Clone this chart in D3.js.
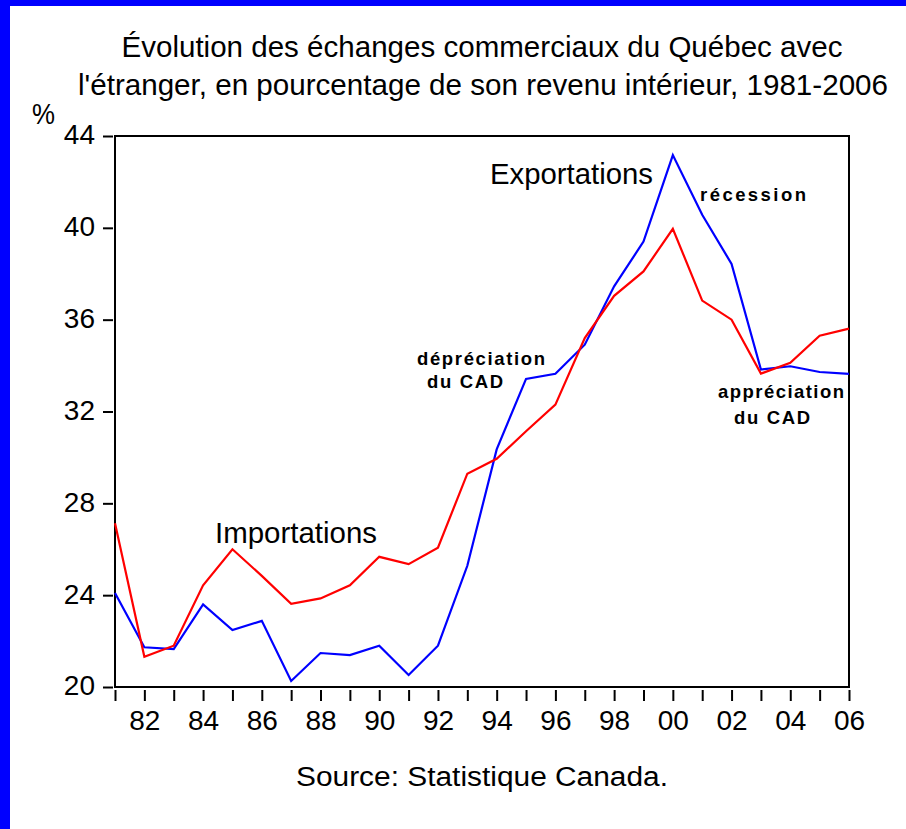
<!DOCTYPE html>
<html>
<head>
<meta charset="utf-8">
<script src="https://cdn.jsdelivr.net/npm/d3@7"></script>
<style>
  html, body { margin: 0; padding: 0; background: #fff; }
  svg { display: block; font-family: "Liberation Sans", Arial, sans-serif; }
</style>
</head>
<body>
<svg id="chart" width="906" height="829"></svg>
<script>
// ---- data ----
const years = d3.range(1981, 2007);
const importations = [27.13, 21.32, 21.80, 24.43, 26.00, 24.84, 23.62, 23.86, 24.43, 25.67,
                      25.35, 26.07, 29.29, 29.94, 31.14, 32.30, 35.20, 37.04, 38.10, 39.96,
                      36.83, 36.00, 33.65, 34.12, 35.30, 35.61];
const exportations = [24.09, 21.73, 21.65, 23.60, 22.48, 22.88, 20.26, 21.48, 21.39, 21.80,
                      20.52, 21.80, 25.28, 30.35, 33.42, 33.64, 34.91, 37.45, 39.40, 43.17,
                      40.57, 38.43, 33.83, 33.97, 33.72, 33.64];
const yTicks = [20, 24, 28, 32, 36, 40, 44];
const xLabelYears = [1982, 1984, 1986, 1988, 1990, 1992, 1994, 1996, 1998, 2000, 2002, 2004, 2006];
const titleLines = ["Évolution des échanges commerciaux du Québec avec",
                    "l'étranger, en pourcentage de son revenu intérieur, 1981-2006"];

(function () {
const svg = d3.select("#chart");

// blue frame remnants
svg.append("rect").attr("x", 0).attr("y", 0).attr("width", 906).attr("height", 6).attr("fill", "#0000ff");
svg.append("rect").attr("x", 0).attr("y", 0).attr("width", 10).attr("height", 829).attr("fill", "#0000ff");

const pLeft = 115, pRight = 849, pTop = 136, pBottom = 687;
const x = d3.scaleLinear().domain([1981, 2006]).range([pLeft, pRight]);
const y = d3.scaleLinear().domain([20, 44]).range([pBottom, pTop]);

// title
const title = svg.append("g");
title.append("text").attr("x", 482).attr("y", 57).attr("text-anchor", "middle")
  .attr("font-size", 30).attr("textLength", 721).attr("lengthAdjust", "spacingAndGlyphs")
  .text(titleLines[0]);
title.append("text").attr("x", 483).attr("y", 95).attr("text-anchor", "middle")
  .attr("font-size", 30).attr("textLength", 810).attr("lengthAdjust", "spacingAndGlyphs")
  .text(titleLines[1]);

svg.append("text").attr("x", 32).attr("y", 124).attr("font-size", 29)
  .attr("textLength", 23).attr("lengthAdjust", "spacingAndGlyphs").text("%");

// plot frame
svg.append("rect").attr("x", pLeft).attr("y", pTop).attr("width", pRight - pLeft).attr("height", pBottom - pTop)
  .attr("fill", "none").attr("stroke", "#000").attr("stroke-width", 2);

// y axis
const yAxis = d3.axisLeft(y).tickValues(yTicks).tickSize(10).tickPadding(8).tickFormat(d3.format("d"));
const gy = svg.append("g").attr("transform", `translate(${pLeft - 2},0)`).call(yAxis);
gy.select(".domain").remove();
gy.selectAll(".tick line").attr("stroke", "#000").attr("stroke-width", 2);
gy.selectAll(".tick text").attr("font-size", 28).attr("fill", "#000")
  .attr("font-family", "Liberation Sans, Arial, sans-serif").attr("dy", "0.28em");

// x axis
const xAxis = d3.axisBottom(x).tickValues(years).tickSize(11).tickPadding(9)
  .tickFormat(d => xLabelYears.includes(d) ? String(d).slice(2) : "");
const gx = svg.append("g").attr("transform", `translate(0,${pBottom + 3})`).call(xAxis);
gx.select(".domain").remove();
gx.selectAll(".tick line").attr("stroke", "#000").attr("stroke-width", 2);
gx.selectAll(".tick text").attr("font-size", 28).attr("fill", "#000")
  .attr("font-family", "Liberation Sans, Arial, sans-serif");

// lines
const line = d3.line().x((d, i) => x(years[i])).y(d => y(d));
svg.append("path").datum(exportations).attr("d", line)
  .attr("fill", "none").attr("stroke", "#0000ff").attr("stroke-width", 2.2).attr("stroke-linejoin", "miter");
svg.append("path").datum(importations).attr("d", line)
  .attr("fill", "none").attr("stroke", "#ff0000").attr("stroke-width", 2.2).attr("stroke-linejoin", "miter");

// annotations
const ann = svg.append("g").attr("fill", "#000");
ann.append("text").attr("x", 215).attr("y", 543).attr("font-size", 29.5)
  .attr("textLength", 162).attr("lengthAdjust", "spacingAndGlyphs").text("Importations");
ann.append("text").attr("x", 490).attr("y", 184).attr("font-size", 29.5)
  .attr("textLength", 163).attr("lengthAdjust", "spacingAndGlyphs").text("Exportations");

const bold = [
  {t: "dépréciation", x: 417, y: 365, w: 128},
  {t: "du CAD", x: 427, y: 388, w: 76},
  {t: "récession", x: 700, y: 201, w: 106},
  {t: "appréciation", x: 718, y: 398, w: 126},
  {t: "du CAD", x: 734, y: 424, w: 76}
];
bold.forEach(b => {
  ann.append("text").attr("x", b.x).attr("y", b.y).attr("font-size", 18.5).attr("font-weight", "bold")
    .attr("textLength", b.w).attr("lengthAdjust", "spacing").text(b.t);
});

// source
svg.append("text").attr("x", 482).attr("y", 786).attr("text-anchor", "middle").attr("font-size", 27)
  .attr("textLength", 372).attr("lengthAdjust", "spacingAndGlyphs").text("Source: Statistique Canada.");
})();
</script>
</body>
</html>
